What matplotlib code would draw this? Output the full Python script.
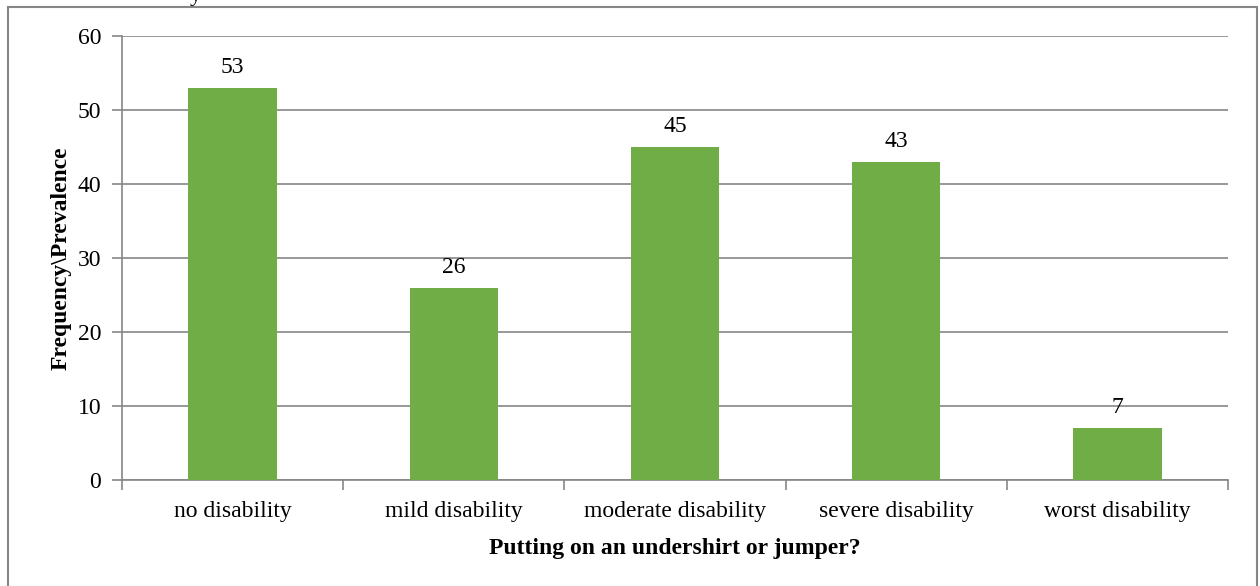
import matplotlib.pyplot as plt
from matplotlib.patches import Rectangle

categories = ['no disability', 'mild disability', 'moderate disability',
              'severe disability', 'worst disability']
counts = [53, 26, 45, 43, 7]
y_ticks = [0, 10, 20, 30, 40, 50, 60]

plt.rcParams['font.family'] = ['Liberation Serif', 'DejaVu Serif']

grey = '#868686'
green = '#70AD47'
fs = 17

fig = plt.figure(figsize=(12.6, 5.86), dpi=100)
ax = fig.add_axes([0.0968, 0.1809, 0.8778, 0.7577])

x = range(len(categories))
bars = ax.bar(x, counts, width=0.4, color=green, zorder=3)
for xi, v in zip(x, counts):
    ax.annotate(str(v), (xi, v), xytext=(0, 7), textcoords='offset points',
                ha='center', va='bottom', fontsize=fs)

ax.set_xlim(-0.5, len(categories) - 0.5)
ax.set_ylim(0, 60)
ax.set_yticks(y_ticks)
ax.yaxis.grid(True, color=grey, linewidth=1.2, zorder=0)
ax.set_xticks(x)
ax.set_xticklabels(categories, fontsize=fs)
ax.set_xticks([i - 0.5 for i in range(len(categories) + 1)], minor=True)
ax.tick_params(axis='x', which='major', length=0, pad=15)
ax.tick_params(axis='x', which='minor', length=7, color=grey, width=1.2)
ax.tick_params(axis='y', length=7, color=grey, width=1.2, labelsize=fs, pad=8)

for side in ['top', 'right']:
    ax.spines[side].set_visible(False)
for side in ['left', 'bottom']:
    ax.spines[side].set_color(grey)
    ax.spines[side].set_linewidth(1.2)

ax.set_ylabel('Frequency\\Prevalence', fontsize=fs, fontweight='bold', labelpad=4)
ax.set_xlabel('Putting on an undershirt or jumper?', fontsize=fs,
              fontweight='bold', labelpad=12)

# chart frame and clipped line of text above it
fig.patches.append(Rectangle((0.0063, -0.05), 0.9913, 1.038, transform=fig.transFigure,
                             fill=False, edgecolor=grey, linewidth=1.5))
fig.text(196 / 1260, 1 - 1.5 / 586, 'y', ha='center', va='baseline', fontsize=fs)

fig.savefig('out.png', dpi=100)
